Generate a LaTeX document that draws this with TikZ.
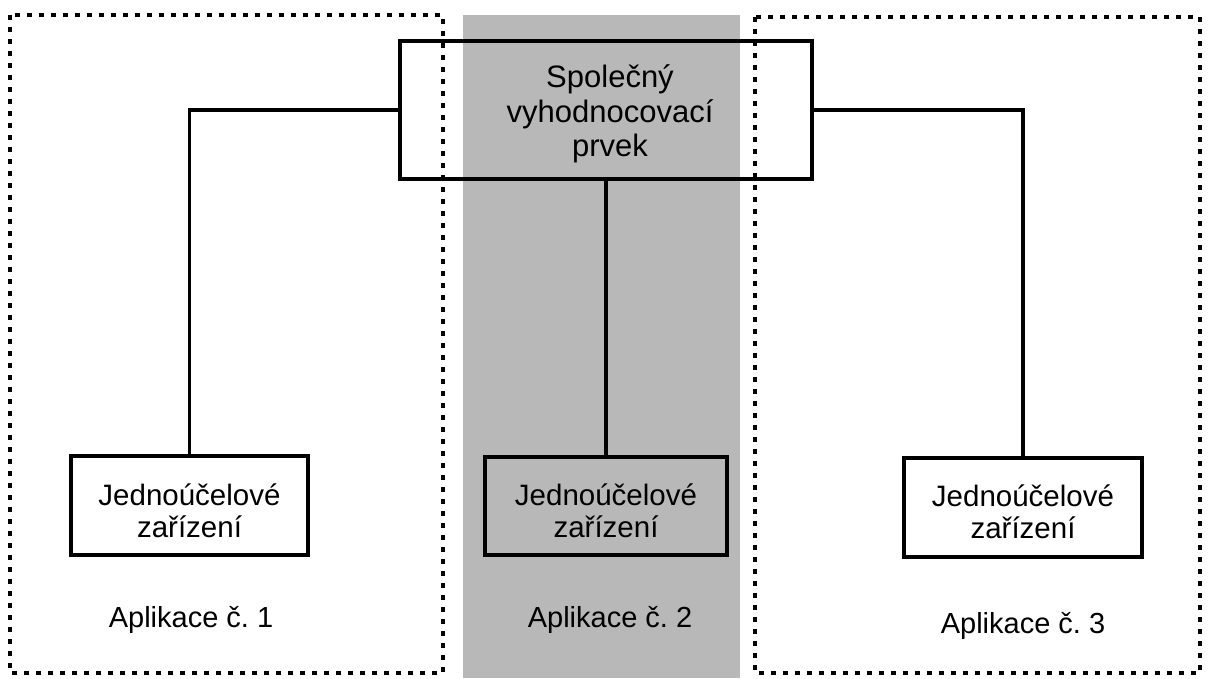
\documentclass[tikz,border=0pt]{standalone}
\usepackage{fontspec}
\setmainfont{Liberation Sans}
\begin{document}
\frenchspacing
\begin{tikzpicture}[x=1pt,y=-1pt,
  dotbox/.style={draw=black,line width=3.5pt,dash pattern=on 5pt off 7pt},
  solidbox/.style={draw=black,line width=3.3pt,inner sep=0pt},
  boxtext/.style={align=center,inner sep=0pt,font=\fontsize{29.5}{32}\selectfont},
  conn/.style={draw=black,line width=3.3pt},
  lab/.style={font=\fontsize{29}{32}\selectfont,inner sep=0pt}]
\useasboundingbox (0,0) rectangle (1208,678);
\fill[black!28] (463,15) rectangle (740,678);
\draw[dotbox] (10,15) rectangle (443,673);
\draw[dotbox] (755,17) rectangle (1200,673);
\node[solidbox,minimum width=412pt,minimum height=138pt] (top) at (606,110) {};
\node[font=\fontsize{31}{34.5}\selectfont,align=center,inner sep=0pt] (toptext) at (610,114) {Společný\\vyhodnocovací\\prvek};
\node[solidbox,minimum width=237pt,minimum height=99pt] (b1) at (189.5,505.5) {};
\node[solidbox,minimum width=242pt,minimum height=98pt] (b2) at (606,506) {};
\node[solidbox,minimum width=238pt,minimum height=99pt] (b3) at (1023,507.5) {};
\node[boxtext] (t1) at ([yshift=-5pt]b1.center) {Jednoúčelové\\zařízení};
\node[boxtext] (t2) at ([yshift=-5pt]b2.center) {Jednoúčelové\\zařízení};
\node[boxtext] (t3) at ([yshift=-4pt]b3.center) {Jednoúčelové\\zařízení};
\draw[conn] (top.west) -| (b1.north);
\draw[conn] (top.south) -- (b2.north);
\draw[conn] (top.east) -| (b3.north);
\node[lab] (l1) at (191,620) {Aplikace č. 1};
\node[lab] (l2) at (610,620) {Aplikace č. 2};
\node[lab] (l3) at (1023,626) {Aplikace č. 3};
\end{tikzpicture}
\end{document}
